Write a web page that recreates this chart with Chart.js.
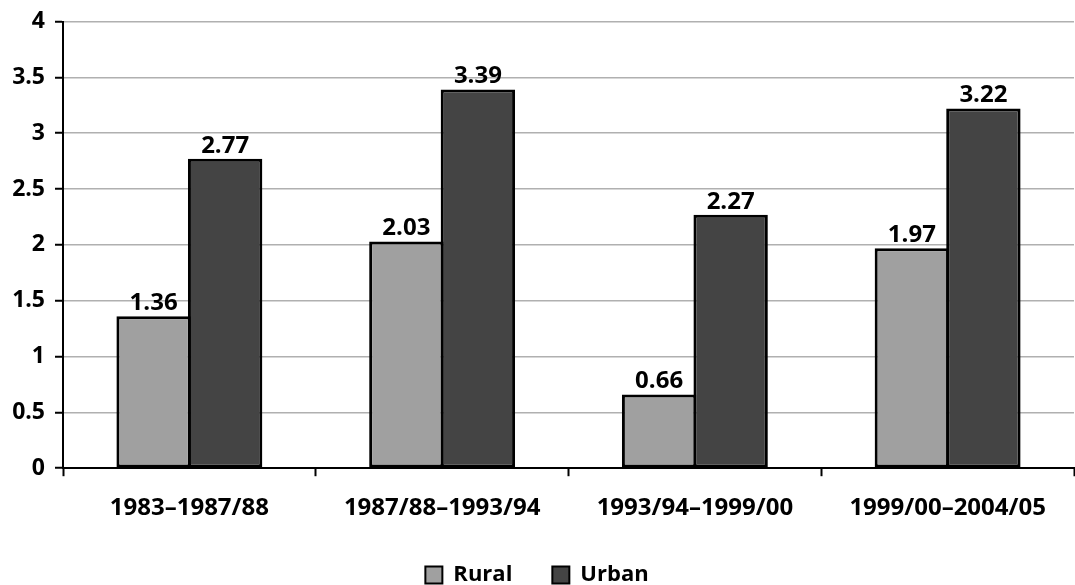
<!DOCTYPE html>
<html>
<head>
<meta charset="utf-8">
<script src="https://cdn.jsdelivr.net/npm/chart.js@4"></script>
<style>
  html, body { margin: 0; padding: 0; background: #fff; }
  #wrap { width: 1075px; height: 585px; }
</style>
</head>
<body>
<div id="wrap"><canvas id="growthChart"></canvas></div>
<script>
// Categories (periods) and series values
const periods = ['1983–1987/88', '1987/88–1993/94', '1993/94–1999/00', '1999/00–2004/05'];
const seriesNames = ['Rural', 'Urban'];
const ruralValues = [1.36, 2.03, 0.66, 1.97];
const urbanValues = [2.77, 3.39, 2.27, 3.22];
const yTicks = [0, 0.5, 1, 1.5, 2, 2.5, 3, 3.5, 4];

const FONT = '"Open Sans", "DejaVu Sans", sans-serif';

// Draws the value above each bar
const valueLabels = {
    id: 'valueLabels',
    afterDatasetsDraw(chart) {
        const ctx = chart.ctx;
        ctx.save();
        ctx.font = 'bold 24px ' + FONT;
        ctx.fillStyle = '#000';
        ctx.textAlign = 'center';
        ctx.textBaseline = 'bottom';
        chart.data.datasets.forEach((ds, i) => {
            chart.getDatasetMeta(i).data.forEach((bar, j) => {
                ctx.fillText(ds.data[j].toFixed(2), bar.x, bar.y - 1);
            });
        });
        ctx.restore();
    }
};

const ctx = document.getElementById('growthChart').getContext('2d');
const growthChart = new Chart(ctx, {
    type: 'bar',
    data: {
        labels: periods,
        datasets: [{
            label: seriesNames[0],
            data: ruralValues,
            backgroundColor: '#a0a0a0',
            borderColor: '#000',
            borderWidth: 3,
            borderSkipped: false
        }, {
            label: seriesNames[1],
            data: urbanValues,
            backgroundColor: '#444444',
            borderColor: '#000',
            borderWidth: 3,
            borderSkipped: false
        }]
    },
    options: {
        responsive: true,
        maintainAspectRatio: false,
        animation: false,
        datasets: {
            bar: {
                categoryPercentage: 0.566,
                barPercentage: 1.04
            }
        },
        layout: {
            padding: { top: 10, right: 1, left: 0, bottom: -11 }
        },
        scales: {
            x: {
                afterFit(axis) {
                    axis.height -= 17;
                },
                grid: {
                    display: true,
                    drawOnChartArea: false,
                    offset: true,
                    tickLength: 8,
                    tickColor: '#000',
                    tickWidth: 2
                },
                border: { color: '#000', width: 2 },
                ticks: {
                    color: '#000',
                    padding: 18,
                    maxRotation: 0,
                    font: { family: FONT, size: 24, weight: 'bold' }
                }
            },
            y: {
                min: 0,
                max: 4,
                afterBuildTicks(axis) {
                    axis.ticks = yTicks.map(v => ({ value: v }));
                },
                afterFit(axis) {
                    axis.width = 63;
                },
                grid: {
                    color: '#b0b0b0',
                    lineWidth: 1.5,
                    tickLength: 8,
                    tickColor: '#000',
                    tickWidth: 2
                },
                border: { color: '#000', width: 2 },
                ticks: {
                    color: '#000',
                    padding: 10,
                    font: { family: FONT, size: 23, weight: 'bold', lineHeight: 1 },
                    callback: v => String(v)
                }
            }
        },
        plugins: {
            legend: {
                position: 'bottom',
                labels: {
                    color: '#000',
                    boxWidth: 17,
                    boxHeight: 17,
                    padding: 40,
                    font: { family: FONT, size: 22, weight: 'bold' },
                    generateLabels(chart) {
                        return chart.data.datasets.map((ds, i) => ({
                            text: ds.label,
                            fillStyle: ds.backgroundColor,
                            strokeStyle: '#000',
                            lineWidth: 2,
                            hidden: false,
                            datasetIndex: i,
                            fontColor: '#000'
                        }));
                    }
                }
            },
            tooltip: { enabled: false }
        }
    },
    plugins: [valueLabels]
});
</script>
</body>
</html>
